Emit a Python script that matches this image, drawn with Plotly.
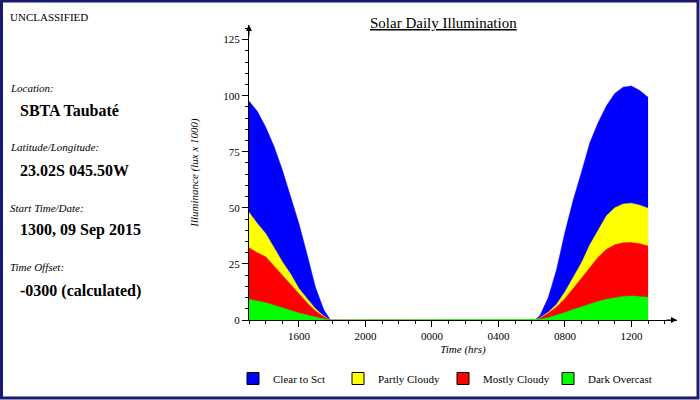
import plotly.graph_objects as go

# ---- data (hours since 00:00 on 09 Sep 2015; 24+ = next day) ----
hours = [13, 13.5, 14, 14.5, 15, 15.5, 16, 16.5, 17, 17.5, 17.9,
         30.2, 30.5, 31, 31.5, 32, 32.5, 33, 33.5, 34, 34.5, 35, 35.5, 36, 36.5, 37]
clear_to_sct = [97.6, 93, 86, 77.5, 67, 55, 43, 29, 14.5, 4.5, 0,
                0, 2, 10, 22.5, 39, 53.5, 66, 79, 88, 95.5, 101, 103.8, 104.3, 102.3, 99.3]
partly_cloudy = [48, 43, 38.6, 32, 26, 20.5, 14, 9.5, 5, 1.7, 0,
                 0, 1, 3.5, 7, 12.5, 19, 25.5, 33.5, 40, 46.5, 50, 51.7, 52, 51.2, 49.8]
mostly_cloudy = [32.2, 30, 28.2, 24, 20, 16, 11.8, 7.6, 4, 1.3, 0,
                 0, 0.8, 3, 5.8, 9.5, 14, 18.5, 23.5, 28, 31.5, 33.5, 34.4, 34.5, 34, 33]
dark_overcast = [9.2, 8.5, 7.7, 6.6, 5.4, 4.3, 3.1, 2.2, 1.2, 0.4, 0,
                 0, 0.3, 1, 2, 3.3, 4.7, 6, 7, 8.3, 9.2, 10, 10.5, 10.7, 10.5, 10.1]

series_names = ["Clear to Sct", "Partly Cloudy", "Mostly Cloudy", "Dark Overcast"]
series_values = [clear_to_sct, partly_cloudy, mostly_cloudy, dark_overcast]
series_colors = ["#0000ff", "#ffff00", "#ff0000", "#00ff00"]

tick_vals = [16, 20, 24, 28, 32, 36]
tick_text = ["1600", "2000", "0000", "0400", "0800", "1200"]

info_labels = ["Location:", "Latitude/Longitude:", "Start Time/Date:", "Time Offset:"]
info_values = ["SBTA Taubaté", "23.02S 045.50W", "1300, 09 Sep 2015", "-0300 (calculated)"]

SERIF = "Liberation Serif, Times New Roman, serif"

fig = go.Figure()
for name, vals, col in zip(series_names, series_values, series_colors):
    fig.add_trace(go.Scatter(
        x=hours, y=vals, name=name, mode="lines", legendgroup=name, showlegend=False,
        line=dict(color=col, width=0.5),
        fill="tozeroy", fillcolor=col, hoverinfo="skip",
    ))
# legend swatches (boxed, like the original)
for name, col in zip(series_names, series_colors):
    fig.add_trace(go.Bar(
        x=[None], y=[None], name=name, legendgroup=name, showlegend=True,
        marker=dict(color=col, line=dict(color="#000", width=1)),
    ))

# plot area geometry (pixels)
W, H = 700, 400
L, R, T, B = 249, 23, 25, 80
pw, ph = W - L - R, H - T - B

def px(x):
    return (x - L) / pw

def py(y):
    return (H - B - y) / ph

annotations = [
    dict(text="UNCLASSIFIED", x=px(8), y=py(17), xref="paper", yref="paper",
         xanchor="left", yanchor="middle", showarrow=False,
         font=dict(family=SERIF, size=11, color="#000")),
    dict(text="<u>Solar Daily Illumination</u>", x=px(443), y=py(23), xref="paper", yref="paper",
         xanchor="center", yanchor="middle", showarrow=False,
         font=dict(family=SERIF, size=15, color="#000")),
    # axis arrows
    dict(x=1, y=0, xref="paper", yref="paper", ax=-12, ay=0, axref="pixel", ayref="pixel",
         showarrow=True, arrowhead=2, arrowsize=1.2, arrowwidth=1, arrowcolor="#000", text=""),
    dict(x=0, y=1, xref="paper", yref="paper", ax=0, ay=12, axref="pixel", ayref="pixel",
         showarrow=True, arrowhead=2, arrowsize=1.2, arrowwidth=1, arrowcolor="#000", text=""),
]
label_y = [88, 147, 208, 267]
value_y = [111, 170, 230, 291]
for lab, val, ly, vy in zip(info_labels, info_values, label_y, value_y):
    annotations.append(dict(text="<i>" + lab + "</i>", x=px(8), y=py(ly), xref="paper", yref="paper",
                            xanchor="left", yanchor="middle", showarrow=False,
                            font=dict(family=SERIF, size=11, color="#000")))
    annotations.append(dict(text="<b>" + val + "</b>", x=px(18), y=py(vy), xref="paper", yref="paper",
                            xanchor="left", yanchor="middle", showarrow=False,
                            font=dict(family=SERIF, size=16, color="#000")))

shapes = [
    dict(type="rect", xref="paper", yref="paper",
         x0=px(1.5), x1=px(698), y0=py(398), y1=py(1),
         line=dict(color="#1a1a6e", width=3), fillcolor="rgba(0,0,0,0)", layer="above"),
]

fig.update_layout(
    width=W, height=H,
    margin=dict(l=L, r=R, t=T, b=B, autoexpand=False),
    paper_bgcolor="white", plot_bgcolor="white",
    font=dict(family=SERIF, size=11, color="#000"),
    showlegend=True,
    legend=dict(orientation="h", xref="container", yref="container",
                x=233 / W, y=1 - 364 / H, xanchor="left", yanchor="top",
                entrywidth=60, entrywidthmode="pixels", itemwidth=30,
                font=dict(family=SERIF, size=11, color="#000"), traceorder="normal"),
    xaxis=dict(range=[13, 38.74], showgrid=False, zeroline=False,
               showline=True, linecolor="#000", linewidth=1,
               tickmode="array", tickvals=tick_vals, ticktext=tick_text,
               ticks="outside", ticklen=6, tickcolor="#000",
               minor=dict(tickmode="linear", tick0=13, dtick=1, ticks="outside",
                          ticklen=3, tickcolor="#000"),
               title=dict(text="<i>Time (hrs)</i>", font=dict(family=SERIF, size=11), standoff=4),
               tickfont=dict(family=SERIF, size=11)),
    yaxis=dict(range=[0, 131.5], showgrid=False, zeroline=False,
               showline=True, linecolor="#000", linewidth=1,
               tickmode="linear", tick0=0, dtick=25,
               ticks="outside", ticklen=6, tickcolor="#000",
               minor=dict(tickmode="linear", tick0=0, dtick=5, ticks="outside",
                          ticklen=3, tickcolor="#000"),
               title=dict(text="<i>Illuminance (lux x 1000)</i>", font=dict(family=SERIF, size=11), standoff=22),
               tickfont=dict(family=SERIF, size=11)),
    annotations=annotations,
    shapes=shapes,
)

fig.write_html("out.html", config={"displayModeBar": False},
               post_script="document.body.style.margin='0';")
